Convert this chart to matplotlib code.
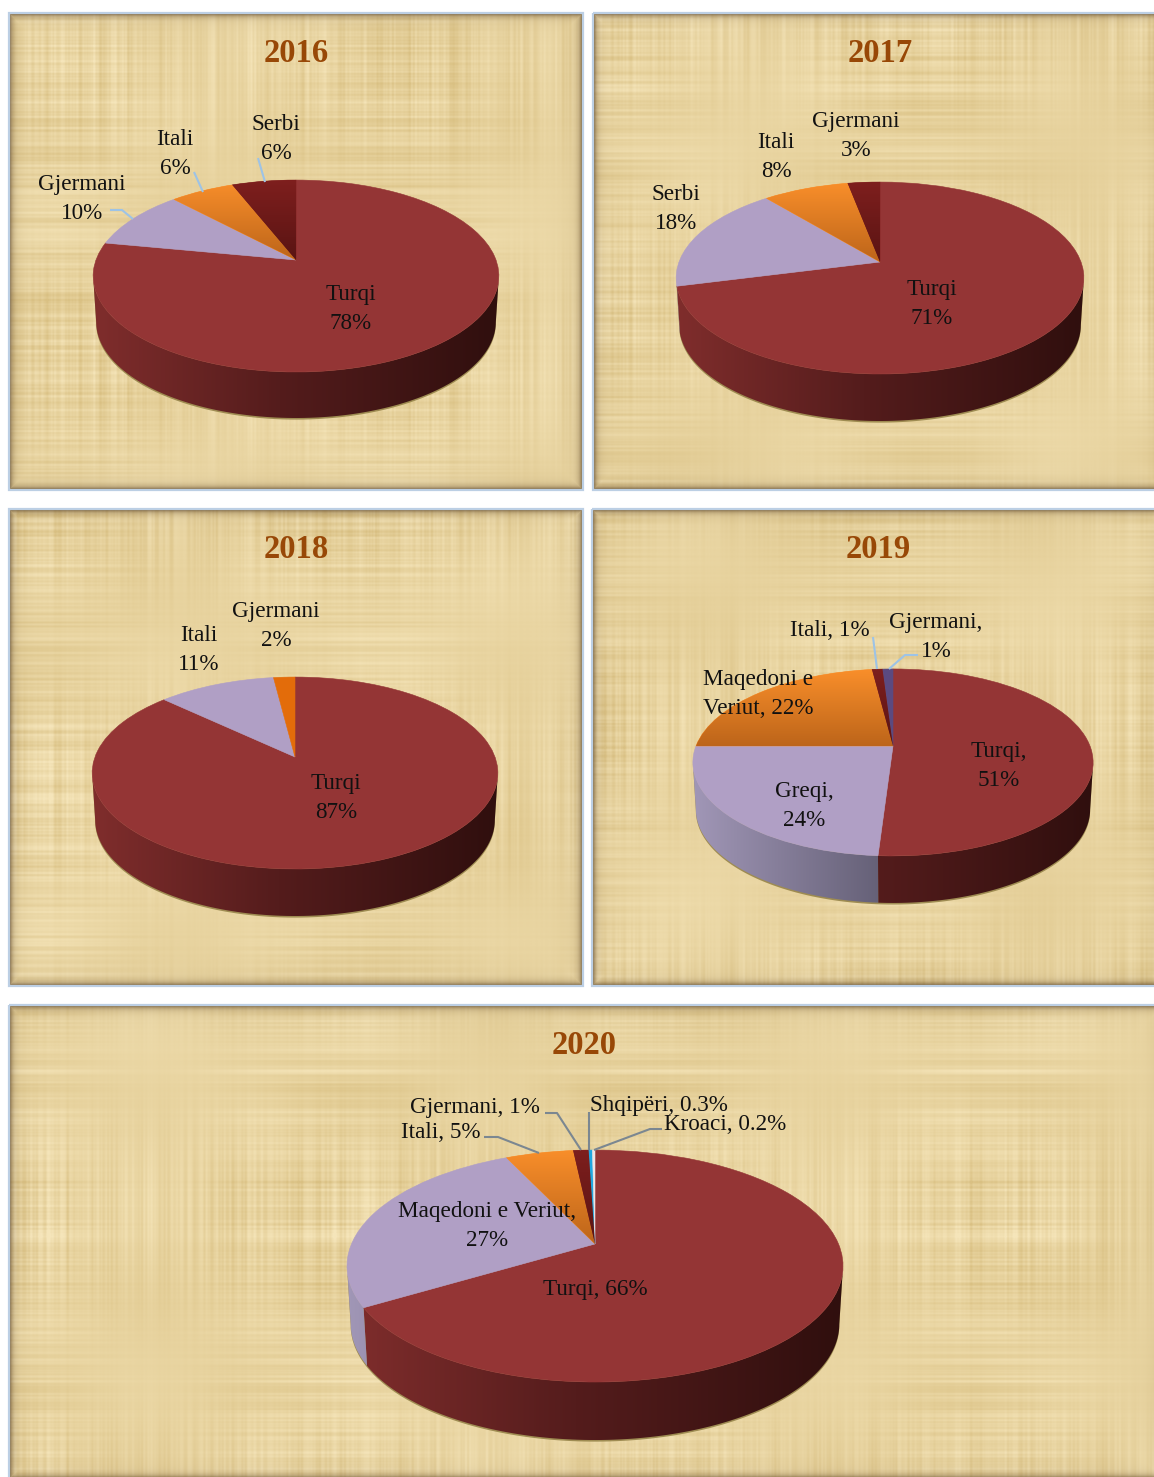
import numpy as np
import matplotlib
matplotlib.use('Agg')
from matplotlib import pyplot as plt
from matplotlib.colors import to_rgb
from matplotlib.patches import Polygon, Rectangle
from matplotlib.transforms import Transform

plt.rcParams['font.family'] = ['Liberation Serif', 'DejaVu Serif']

W, H = 1154, 1477

# chart values, clockwise from the top of each pie
labels_2016 = ['Turqi\n78%', 'Gjermani\n10%', 'Itali\n6%', 'Serbi\n6%']
values_2016 = [78, 10, 6, 6]
labels_2017 = ['Turqi\n71%', 'Serbi\n18%', 'Itali\n8%', 'Gjermani\n3%']
values_2017 = [71, 18, 8, 3]
labels_2018 = ['Turqi\n87%', 'Itali\n11%', 'Gjermani\n2%']
values_2018 = [87, 11, 2]
labels_2019 = ['Turqi,\n51%', 'Greqi,\n24%', 'Maqedoni e\nVeriut, 22%', 'Itali, 1%', 'Gjermani,\n1%']
values_2019 = [51, 24, 23, 1, 1]
labels_2020 = ['Turqi, 66%', 'Maqedoni e Veriut,\n27%', 'Itali, 5%', 'Gjermani, 1%',
               'Shqipëri, 0.3%', 'Kroaci, 0.2%']
values_2020 = [66.4, 26.6, 5.3, 1.2, 0.3, 0.2]

RED = '#943535'
LAV = '#b09fc5'
ORANGE = ('#fb902b', '#bd651a')
DARK = ('#7f1f1e', '#5a1413')
FLAT_ORANGE = '#e36c0a'
PURPLE = '#5b4a80'
CYAN = '#1fa6e0'
PALE = '#efe3e3'

colors_2016 = [RED, LAV, ORANGE, DARK]
colors_2017 = [RED, LAV, ORANGE, DARK]
colors_2018 = [RED, LAV, FLAT_ORANGE]
colors_2019 = [RED, LAV, ORANGE, DARK, PURPLE]
colors_2020 = [RED, LAV, ORANGE, DARK, CYAN, PALE]

# layout in pixels: apex x, apex y, half width, vertical scale, perspective, depth
geom_2016 = (296, 260, 200, 93.3, 0.167, 46)
geom_2017 = (880, 262, 201, 93.3, 0.167, 47)
geom_2018 = (295, 757, 200, 93.3, 0.167, 47)
geom_2019 = (893, 746, 197, 90.6, 0.176, 47)
geom_2020 = (595, 1244, 243.5, 111.8, 0.19, 58)

# the right and bottom panels run off the page, so they show no edge there
panel_2016 = (9, 13, 583, 490)
panel_2017 = (593, 13, 1164, 490)
panel_2018 = (9, 509, 583, 986)
panel_2019 = (592, 509, 1164, 986)
panel_2020 = (9, 1005, 1164, 1479)

title_pos = [(296, 53), (880, 53), (296, 549), (878, 549), (584, 1045)]

label_pos_2016 = [(351, 309), (82, 199), (175, 154), (276, 139)]
label_pos_2017 = [(932, 304), (676, 209), (776, 157), (856, 136)]
label_pos_2018 = [(336, 798), (199, 650), (276, 626)]
label_pos_2019 = [(999, 766), (804, 806), (758, 694), (830, 631), (936, 637)]
label_pos_2020 = [(595, 1290), (487, 1226), (441, 1132), (475, 1108), (659, 1106), (725, 1124)]

leaders_blue = [
    [(110, 210), (122, 210), (133, 219)],
    [(194, 172), (203, 192)],
    [(258, 158), (265, 182)],
    [(873, 637), (877, 669)],
    [(918, 655), (905, 655), (889, 669)],
]
leaders_grey = [
    [(545, 1113), (557, 1113), (581, 1150)],
    [(484, 1137), (498, 1137), (539, 1153)],
    [(589, 1112), (589, 1150)],
    [(662, 1129), (650, 1129), (594, 1150)],
]


class TiltTransform(Transform):
    # unit circle seen from above with some perspective
    input_dims = 2
    output_dims = 2
    is_separable = False
    has_inverse = False

    def __init__(self, geom):
        super().__init__()
        self.cx, self.cy, self.b, self.a, self.k = geom[:5]

    def transform_non_affine(self, xy):
        xy = np.asarray(xy, dtype=float)
        s = 1 / (1 + self.k * xy[:, 1])
        return np.column_stack((self.cx + self.b * xy[:, 0] * s, self.cy - self.a * xy[:, 1] * s))


def grain(idx, ph, width):
    # repeatable 1d noise for the paper weave
    n = np.sin(idx * 12.9898 + ph) * 43758.5453
    n = (n - np.floor(n)) * 2 - 1
    kernel = np.hanning(width + 2)[1:-1]
    return np.convolve(n, kernel / kernel.sum(), mode='same')


def parchment(panel):
    x0, y0, x1, y1 = panel
    xs, ys = np.arange(x0, x1), np.arange(y0, y1)
    xx, yy = np.meshgrid(xs, ys)
    ph = x0 * 0.013 + y0 * 0.007
    col_fine = 0.8 * grain(xs, ph, 3) + 0.9 * grain(xs, ph + 1, 11)
    row_fine = 0.8 * grain(ys, ph + 2, 3) + 0.9 * grain(ys, ph + 3, 11)
    v = (col_fine[None, :] * (0.55 + 0.45 * np.sin(yy / 47 + ph))
         + row_fine[:, None] * (0.55 + 0.45 * np.sin(xx / 53 + 2 * ph))
         + 0.18 * np.sin(xx / 37 + ph) * np.sin(yy / 29 + ph)
         + 0.14 * np.sin(xx / 130 + yy / 90 + ph))
    v = np.clip(v * 0.38 + 0.52, 0, 1)[..., None]
    img = np.array(to_rgb('#dac184')) * (1 - v) + np.array(to_rgb('#f6e6bb')) * v
    d = np.minimum.reduce([xx - x0, x1 - 1 - xx, yy - y0, y1 - 1 - yy])[..., None]
    edge = 0.8 * np.exp(-d / 2.8) + 0.06 * np.exp(-d / 14.0)
    return img * (1 - edge) + np.array(to_rgb('#5e4526')) * edge


def gradient(c0, c1, horizontal, n=64):
    t = np.linspace(0, 1, n)[:, None]
    ramp = np.array(to_rgb(c0)) * (1 - t) + np.array(to_rgb(c1)) * t
    return ramp[None, :, :] if horizontal else ramp[:, None, :]


def rim(tilt, cx, depth, t_deg):
    t = np.radians(t_deg)
    top = tilt.transform_non_affine(np.column_stack((np.sin(t), np.cos(t))))
    low = top.copy()
    low[:, 0] = cx + (low[:, 0] - cx) * 0.985
    low[:, 1] += depth
    return top, low


def draw_side(ax, geom, values, colors):
    cx, cy, b, a, k, depth = geom
    tilt = TiltTransform(geom)
    fracs = np.cumsum(values) / np.sum(values) * 360
    starts = np.concatenate(([0], fracs[:-1]))
    lim = np.degrees(np.arccos(-k))
    half = b / np.sqrt(1 - k ** 2)

    # thin shadow on the paper under the pie
    top, low = rim(tilt, cx, depth + 1.6, np.linspace(lim, 360 - lim, 200))
    ax.add_patch(Polygon(np.vstack((top, low[::-1])), facecolor='#8c7a3e', edgecolor='none',
                         alpha=0.8, zorder=0.8))

    for t0, t1, col in zip(starts, fracs, colors):
        lo, hi = max(t0, lim), min(t1, 360 - lim)
        if hi <= lo:
            continue
        top, low = rim(tilt, cx, depth, np.linspace(lo, hi, 120))
        poly = Polygon(np.vstack((top, low[::-1])), transform=ax.transData)
        if col == LAV:
            grad = gradient('#a096b6', '#22232f', True)
        else:
            stops = np.array([to_rgb('#7f2d2c'), to_rgb('#541c1c'), to_rgb('#300f0e')])
            xi = np.linspace(0, 1, 64)
            grad = np.stack([np.interp(xi, [0, 0.46, 1], stops[:, i]) for i in range(3)], axis=1)[None, :, :]
        im = ax.imshow(grad, extent=(cx - half, cx + half, cy + 200, cy - 200), aspect='auto',
                       interpolation='bilinear', zorder=1)
        im.set_clip_path(poly)


def draw_pie(ax, geom, values, colors):
    draw_side(ax, geom, values, colors)
    tilt = TiltTransform(geom)
    flat = [c[0] if isinstance(c, tuple) else c for c in colors]
    wedges, _ = ax.pie(values, colors=flat, startangle=90, counterclock=False, radius=1,
                       wedgeprops={'zorder': 2})
    for w, c in zip(wedges, colors):
        w.set_transform(tilt + ax.transData)
        w.set_edgecolor(w.get_facecolor())
        w.set_linewidth(0.4)
        if isinstance(c, tuple):
            # lit from the rim, darker towards the apex
            im = ax.imshow(gradient(c[0], c[1], False),
                           extent=(geom[0] - 300, geom[0] + 300, geom[1], geom[1] - geom[3] * 0.88),
                           aspect='auto', interpolation='bilinear', zorder=3)
            im.set_clip_path(w)


def draw_labels(ax, labels, positions):
    for txt, (x, y) in zip(labels, positions):
        ax.text(x, y, txt, ha='center', va='center', fontsize=16.7, color='#111111',
                linespacing=1.45, zorder=6)


def main():
    fig = plt.figure(figsize=(W / 100, H / 100), dpi=100, facecolor='white')
    ax = fig.add_axes([0, 0, 1, 1])
    ax.set_xlim(0, W)
    ax.set_ylim(H, 0)
    ax.set_autoscale_on(False)

    for p in (panel_2016, panel_2017, panel_2018, panel_2019, panel_2020):
        ax.imshow(parchment(p), extent=(p[0], p[2], p[3], p[1]), aspect='auto',
                  interpolation='bilinear', zorder=0)
        ax.add_patch(Rectangle((p[0], p[1]), p[2] - p[0], p[3] - p[1], fill=False,
                               edgecolor='#bccfe4', linewidth=1.6, zorder=0.5))

    draw_pie(ax, geom_2016, values_2016, colors_2016)
    draw_pie(ax, geom_2017, values_2017, colors_2017)
    draw_pie(ax, geom_2018, values_2018, colors_2018)
    draw_pie(ax, geom_2019, values_2019, colors_2019)
    draw_pie(ax, geom_2020, values_2020, colors_2020)

    draw_labels(ax, labels_2016, label_pos_2016)
    draw_labels(ax, labels_2017, label_pos_2017)
    draw_labels(ax, labels_2018, label_pos_2018)
    draw_labels(ax, labels_2019, label_pos_2019)
    draw_labels(ax, labels_2020, label_pos_2020)

    for pts in leaders_blue:
        xs, ys = zip(*pts)
        ax.plot(xs, ys, color='#9dc3e6', linewidth=1.5, zorder=4, solid_capstyle='butt')
    for pts in leaders_grey:
        xs, ys = zip(*pts)
        ax.plot(xs, ys, color='#7b8791', linewidth=1.5, zorder=4, solid_capstyle='butt')

    for year, (x, y) in zip(['2016', '2017', '2018', '2019', '2020'], title_pos):
        ax.text(x, y, year, ha='center', va='center', fontsize=23.5, fontweight='bold',
                color='#984807', zorder=6)

    # pie() changes limits and aspect, so put them back
    ax.set_aspect('auto')
    ax.set_xlim(0, W)
    ax.set_ylim(H, 0)
    ax.axis('off')
    fig.savefig('out.png', dpi=100, facecolor='white')


main()
